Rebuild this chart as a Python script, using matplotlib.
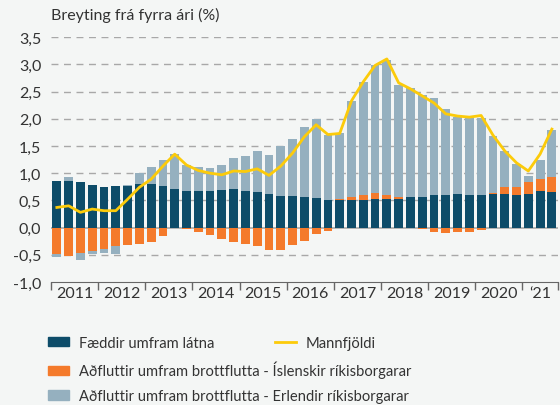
import numpy as np
import matplotlib
matplotlib.use("Agg")
import matplotlib.pyplot as plt
from matplotlib.patches import Patch
from matplotlib.lines import Line2D
from matplotlib.ticker import FuncFormatter

# Quarterly data, 2011Q1 - 2021Q3
faeddir = [0.865, 0.865, 0.84, 0.785, 0.75, 0.77, 0.77, 0.80, 0.80, 0.77,
           0.71, 0.675, 0.675, 0.675, 0.69, 0.71, 0.675, 0.655, 0.62, 0.58,
           0.58, 0.565, 0.55, 0.515, 0.50, 0.515, 0.515, 0.533, 0.533, 0.533,
           0.57, 0.57, 0.603, 0.603, 0.62, 0.603, 0.603, 0.62, 0.62, 0.60,
           0.62, 0.677, 0.66]
islenskir = [-0.485, -0.53, -0.47, -0.43, -0.39, -0.33, -0.32, -0.30, -0.26, -0.15,
             -0.01, -0.02, -0.09, -0.135, -0.21, -0.26, -0.30, -0.34, -0.41, -0.41,
             -0.32, -0.245, -0.12, -0.07, 0.02, 0.04, 0.08, 0.11, 0.07, 0.035,
             0.0, -0.035, -0.08, -0.10, -0.08, -0.08, -0.045, 0.02, 0.13, 0.15,
             0.22, 0.22, 0.275]
erlendir = [-0.05, 0.07, -0.13, -0.055, -0.07, -0.15, 0.01, 0.21, 0.32, 0.475,
            0.65, 0.475, 0.44, 0.425, 0.46, 0.57, 0.645, 0.755, 0.72, 0.92,
            1.05, 1.285, 1.45, 1.185, 1.225, 1.77, 2.09, 2.35, 2.48, 2.06,
            2.0, 1.87, 1.77, 1.57, 1.405, 1.42, 1.42, 1.05, 0.665, 0.425,
            0.11, 0.35, 0.85]
mannfjoldi = [0.37, 0.40, 0.28, 0.34, 0.31, 0.31, 0.52, 0.74, 0.89, 1.13,
              1.35, 1.15, 1.05, 1.0, 0.97, 1.04, 1.03, 1.08, 0.96, 1.13,
              1.37, 1.67, 1.89, 1.71, 1.73, 2.33, 2.68, 2.98, 3.10, 2.66,
              2.55, 2.42, 2.29, 2.09, 2.05, 2.03, 2.06, 1.70, 1.41, 1.19,
              1.04, 1.35, 1.81]
year_labels = ["2011", "2012", "2013", "2014", "2015", "2016", "2017",
               "2018", "2019", "2020", "\u201821"]

labels = ["Fæddir umfram látna",
          "Aðfluttir umfram brottflutta - Íslenskir ríkisborgarar",
          "Aðfluttir umfram brottflutta - Erlendir ríkisborgarar"]
colors = ["#0d4c69", "#f47a2b", "#95b0bf"]
line_color = "#fccb0a"
bg = "#f4f6f5"
txt = "#333333"

plt.rcParams['font.family'] = ['Lato', 'DejaVu Sans']

fig = plt.figure(figsize=(5.6, 4.06), dpi=100, facecolor=bg)
ax = fig.add_axes([0.091, 0.303, 0.905, 0.603], facecolor=bg)

x = np.arange(len(faeddir))
pos = np.zeros(len(x))
neg = np.zeros(len(x))
for vals, c in zip([faeddir, islenskir, erlendir], colors):
    v = np.array(vals)
    bottom = np.where(v >= 0, pos, neg)
    ax.bar(x, v, bottom=bottom, width=0.75, color=c, zorder=2)
    pos = pos + np.where(v >= 0, v, 0)
    neg = neg + np.where(v < 0, v, 0)

ax.plot(x, mannfjoldi, color=line_color, lw=2, zorder=3)

# grid
for yv in [-0.5, 0.5, 1.0, 1.5, 2.0, 2.5, 3.0, 3.5]:
    ax.axhline(yv, color="#a8a8a8", lw=1, ls=(0, (5, 4)), zorder=1)
ax.axhline(0, color="#a8a8a8", lw=1.2, zorder=1)

ax.set_ylim(-1.0, 3.5)
ax.set_xlim(-0.5, 42.5)
ax.set_yticks(np.arange(-1.0, 3.51, 0.5))
ax.yaxis.set_major_formatter(FuncFormatter(lambda v, p: f"{v:.1f}".replace(".", ",")))
ax.tick_params(axis="y", length=0, pad=7, labelsize=11.5, colors=txt)

edges = list(np.arange(-0.5, 40, 4)) + [42.5]
mids = [e + 2 for e in np.arange(-0.5, 36, 4)] + [41]
ax.set_xticks(edges)
ax.set_xticklabels([])
ax.set_xticks(mids, minor=True)
ax.set_xticklabels(year_labels, minor=True)
ax.tick_params(axis="x", which="major", length=6, color="#666666", width=1)
ax.tick_params(axis="x", which="minor", length=0, pad=3, labelsize=11.5, colors=txt)

for s in ["top", "right", "left"]:
    ax.spines[s].set_visible(False)
ax.spines["bottom"].set_color("#666666")

fig.text(0.091, 0.963, "Breyting frá fyrra ári (%)", fontsize=11.5, color=txt,
         ha="left", va="center")

handles = [Patch(color=c) for c in colors]
leg1 = fig.legend(handles, labels, loc="upper left", bbox_to_anchor=(0.0857, 0.17),
                  frameon=False, fontsize=10.6, handlelength=1.42, handleheight=0.58,
                  labelspacing=0.74, handletextpad=0.68, labelcolor=txt,
                  borderaxespad=0, borderpad=0)
leg2 = fig.legend([Line2D([0], [0], color=line_color, lw=2)], ["Mannfjöldi"],
                  loc="upper left", bbox_to_anchor=(0.491, 0.17), frameon=False,
                  fontsize=10.6, handlelength=1.42, handletextpad=0.68, labelcolor=txt,
                  borderaxespad=0, borderpad=0)

fig.savefig("out.png", dpi=100, facecolor=bg)
